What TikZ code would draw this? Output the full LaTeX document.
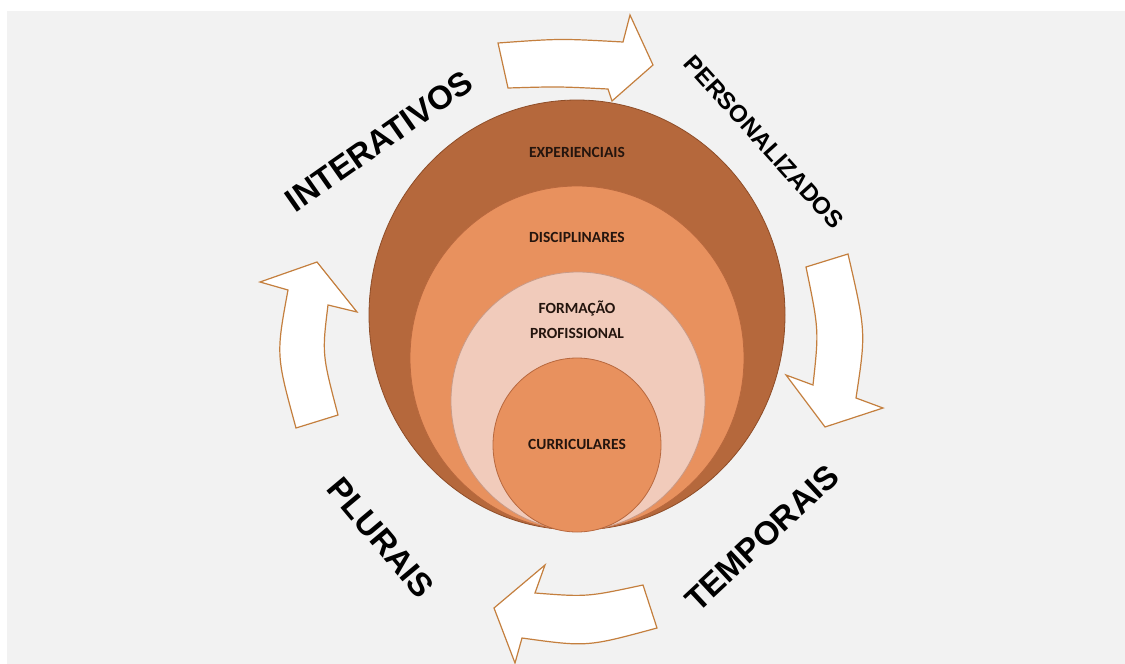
\documentclass[tikz,border=0pt]{standalone}
\usepackage{fontspec}
\setmainfont{Liberation Sans}
\newfontfamily\carl{Carlito Bold}
\usetikzlibrary{shapes.geometric}

\definecolor{pagegray}{HTML}{F2F2F2}
\definecolor{rustbrown}{HTML}{B5683C}
\definecolor{rustedge}{HTML}{8E4D28}
\definecolor{salmon}{HTML}{E8915E}
\definecolor{salmonedge}{HTML}{B8683E}
\definecolor{blush}{HTML}{F1CBBB}
\definecolor{blushedge}{HTML}{C99A86}
\definecolor{arrowline}{HTML}{C47F3E}
\definecolor{inktext}{HTML}{24150E}

\begin{document}
\begin{tikzpicture}[x=1pt,y=-1pt,
  disc/.style={ellipse, inner sep=0pt, outer sep=0pt, line width=0.8pt},
  ringlabel/.style={font=\carl\fontsize{15.5}{25}\selectfont, text=inktext, align=center, inner sep=0pt},
  biglabel/.style={font=\bfseries\fontsize{33}{36}\selectfont, text=black, inner sep=0pt},
  blockarrow/.style={fill=white, draw=arrowline, line width=1.2pt, line join=miter}]

% canvas
\useasboundingbox (0,0) rectangle (1125,664);
\fill[white] (0,0) rectangle (1125,664);
\fill[pagegray] (7,11) rectangle (1125,664);

% cycle of curved block arrows
\draw[blockarrow] (498,43) .. controls (560,38.5) .. (623,42) -- (630,15) -- (653,65)
  -- (612,101) -- (608,89) .. controls (558,86.5) .. (508,88) -- cycle;
\draw[blockarrow] (806,267) -- (848,254) .. controls (866,332) .. (856,398) -- (883,408)
  -- (825,427) -- (786,375) -- (813,385) .. controls (819,330) .. cycle;
\draw[blockarrow] (643,585) -- (657,628) .. controls (587,647) .. (522,638) -- (515,663)
  -- (494,608) -- (545,565) -- (535,593) .. controls (587,597) .. cycle;
\draw[blockarrow] (296,428) -- (338,415) .. controls (322,354) .. (328,305) -- (357,312)
  -- (317,262) -- (260,282) -- (288,290) .. controls (276,355) .. cycle;

% nested discs
\node[disc, fill=rustbrown, draw=rustedge, minimum width=416pt, minimum height=430pt] (exp) at (577,315) {};
\node[disc, fill=salmon, draw=salmonedge, minimum width=334pt, minimum height=344pt] (dis) at (577,358) {};
\node[disc, fill=blush, draw=blushedge, minimum width=254pt, minimum height=258pt] (form) at (578,401) {};
\node[disc, fill=salmon, draw=salmonedge, minimum width=168pt, minimum height=174pt] (cur) at (577,445) {};

% ring labels
\node[ringlabel] (expl) at (577,152) {EXPERIENCIAIS};
\node[ringlabel] (disl) at (577,237) {DISCIPLINARES};
\node[ringlabel] (forml) at (577,320) {FORMAÇÃO\\PROFISSIONAL};
\node[ringlabel] (curl) at (577,444) {CURRICULARES};

% outer labels
\node[biglabel, rotate=35] (inter) at (379,141) {INTERATIVOS};
\node[biglabel, rotate=-48, font=\bfseries\fontsize{24}{28}\selectfont] (pers) at (764,142) {PERSONALIZADOS};
\node[biglabel, rotate=43] (temp) at (762,538) {TEMPORAIS};
\node[biglabel, rotate=-50] (plur) at (381,538) {PLURAIS};
\end{tikzpicture}
\end{document}
